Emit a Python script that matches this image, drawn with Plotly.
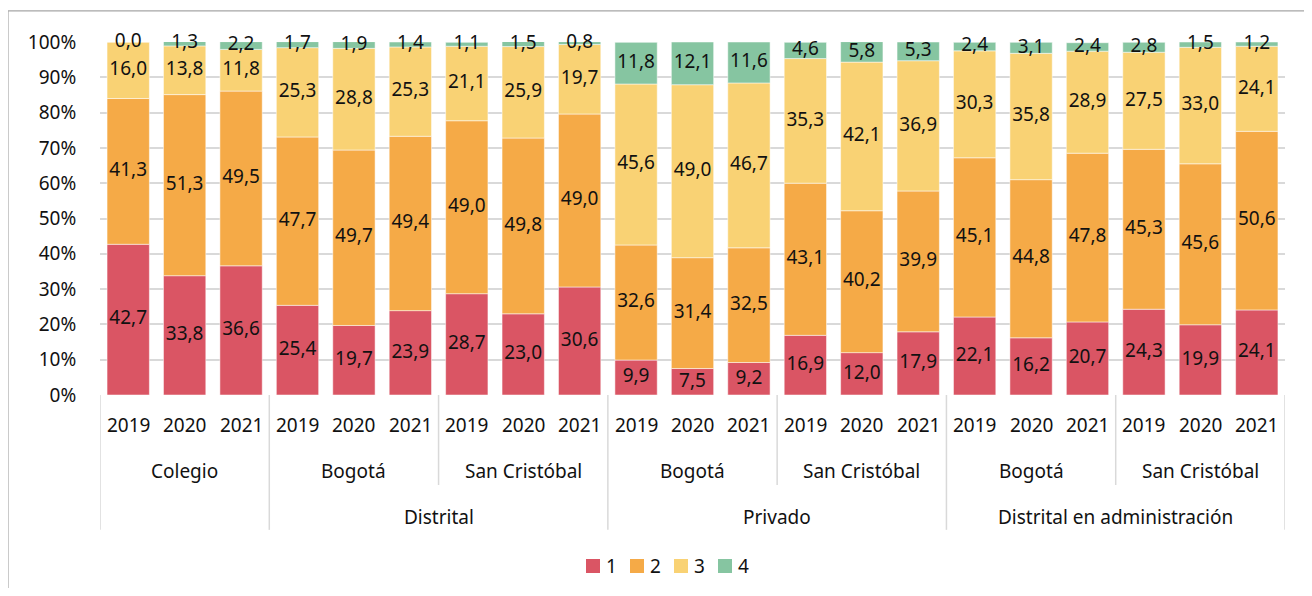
import plotly.graph_objects as go

# ---------------- data ----------------
years = ["2019", "2020", "2021"] * 7
level2 = (["Colegio"] * 3 + ["Bogotá"] * 3 + ["San Cristóbal"] * 3 +
          ["Bogotá"] * 3 + ["San Cristóbal"] * 3 +
          ["Bogotá"] * 3 + ["San Cristóbal"] * 3)
level3 = ([""] * 3 + ["Distrital"] * 6 + ["Privado"] * 6 +
          ["Distrital en administración"] * 6)

series_names = ["1", "2", "3", "4"]
s1 = [42.7, 33.8, 36.6, 25.4, 19.7, 23.9, 28.7, 23.0, 30.6, 9.9, 7.5, 9.2,
      16.9, 12.0, 17.9, 22.1, 16.2, 20.7, 24.3, 19.9, 24.1]
s2 = [41.3, 51.3, 49.5, 47.7, 49.7, 49.4, 49.0, 49.8, 49.0, 32.6, 31.4, 32.5,
      43.1, 40.2, 39.9, 45.1, 44.8, 47.8, 45.3, 45.6, 50.6]
s3 = [16.0, 13.8, 11.8, 25.3, 28.8, 25.3, 21.1, 25.9, 19.7, 45.6, 49.0, 46.7,
      35.3, 42.1, 36.9, 30.3, 35.8, 28.9, 27.5, 33.0, 24.1]
s4 = [0.0, 1.3, 2.2, 1.7, 1.9, 1.4, 1.1, 1.5, 0.8, 11.8, 12.1, 11.6,
      4.6, 5.8, 5.3, 2.4, 3.1, 2.4, 2.8, 1.5, 1.2]
y_ticks = [0, 10, 20, 30, 40, 50, 60, 70, 80, 90, 100]

# ---------------- style ----------------
colors = ["#DA5564", "#F5AA47", "#F9D274", "#86C5A1"]
FONT = "Noto Sans"
FS = 19
GRID = "#D9D9D9"
TXT = "#111111"

W, H = 1296, 580
ML, MR, MT, MB = 92, 19, 34, 193
PW, PH = W - ML - MR, H - MT - MB

n = len(years)
xs = list(range(n))
series = [s1, s2, s3, s4]

fig = go.Figure()
base = [0.0] * n
mids_all = []
for name, vals, col in zip(series_names, series, colors):
    fig.add_trace(go.Bar(
        x=xs, y=vals, base=base, name=name,
        marker=dict(color=col, line=dict(color="white", width=0.5)),
        width=0.75, hoverinfo="skip", textposition="none", showlegend=False,
    ))
    mids = [b + v / 2 for b, v in zip(base, vals)]
    mids_all.append((vals, mids))
    base = [b + v for b, v in zip(base, vals)]

for vals, mids in mids_all:
    fig.add_trace(go.Scatter(
        x=xs, y=mids, mode="text",
        text=[f"{v:.1f}".replace(".", ",") for v in vals],
        textfont=dict(family=FONT, size=FS, color=TXT),
        showlegend=False, hoverinfo="skip", cliponaxis=False,
    ))

# ---------------- multi-level category labels ----------------
Y_YEAR, Y_L2, Y_L3 = -0.085, -0.215, -0.345
L2_END, L3_END = -0.255, -0.382

annotations = []
for i, yr in enumerate(years):
    annotations.append(dict(x=i, y=Y_YEAR, xref="x", yref="paper", text=yr,
                            showarrow=False, yanchor="middle",
                            font=dict(family=FONT, size=FS, color=TXT)))


def runs(labels, keys):
    out = []
    start = 0
    for i in range(1, n + 1):
        if i == n or keys[i] != keys[start]:
            out.append((start, i - 1, labels[start]))
            start = i
    return out


l2_runs = runs(level2, list(zip(level3, level2)))
l3_runs = runs(level3, level3)

for a, b, lab in l2_runs:
    annotations.append(dict(x=(a + b) / 2, y=Y_L2, xref="x", yref="paper", text=lab,
                            showarrow=False, yanchor="middle",
                            font=dict(family=FONT, size=FS, color=TXT)))
for a, b, lab in l3_runs:
    if lab:
        annotations.append(dict(x=(a + b) / 2, y=Y_L3, xref="x", yref="paper", text=lab,
                                showarrow=False, yanchor="middle",
                                font=dict(family=FONT, size=FS, color=TXT)))

shapes = []
l3_bounds = {a - 0.5 for a, b, _ in l3_runs} | {n - 0.5}
l2_bounds = {a - 0.5 for a, b, _ in l2_runs} - l3_bounds
for xb in sorted(l3_bounds):
    shapes.append(dict(type="line", xref="x", yref="paper", x0=xb, x1=xb,
                       y0=0, y1=L3_END, line=dict(color=GRID, width=1.5)))
for xb in sorted(l2_bounds):
    shapes.append(dict(type="line", xref="x", yref="paper", x0=xb, x1=xb,
                       y0=0, y1=L2_END, line=dict(color=GRID, width=1.5)))

# outer chart frame (top and left edges visible)
shapes.append(dict(type="line", xref="paper", yref="paper", x0=-ML / PW, x1=1.03,
                   y0=1.088, y1=1.088, line=dict(color="#A6A6A6", width=1.2)))
shapes.append(dict(type="line", xref="paper", yref="paper", x0=-ML / PW, x1=-ML / PW,
                   y0=1.088, y1=-0.6, line=dict(color="#A6A6A6", width=1.2)))

# ---------------- legend (drawn manually for compact spacing) ----------------
LEG_X0, LEG_STEP, LEG_SQ, LEG_YC = 578, 44, 14, 558  # figure pixels
for k, (name, col) in enumerate(zip(series_names, colors)):
    px = LEG_X0 + LEG_STEP * k
    x0 = (px - ML) / PW
    x1 = (px + LEG_SQ - ML) / PW
    y0 = (H - MB - (LEG_YC - LEG_SQ / 2)) / PH
    y1 = (H - MB - (LEG_YC + LEG_SQ / 2)) / PH
    shapes.append(dict(type="rect", xref="paper", yref="paper", x0=x0, x1=x1,
                       y0=y0, y1=y1, fillcolor=col, line=dict(width=0)))
    annotations.append(dict(x=(px + LEG_SQ + 4 - ML) / PW, y=(H - MB - LEG_YC) / PH,
                            xref="paper", yref="paper", text=name, showarrow=False,
                            xanchor="left", yanchor="middle",
                            font=dict(family=FONT, size=FS, color=TXT)))

fig.update_layout(
    barmode="overlay",
    width=W, height=H,
    margin=dict(l=ML, r=MR, t=MT, b=MB),
    paper_bgcolor="white", plot_bgcolor="white",
    font=dict(family=FONT, size=FS, color=TXT),
    showlegend=False,
    annotations=annotations,
    shapes=shapes,
    hovermode=False,
)
fig.update_xaxes(range=[-0.5, n - 0.5], showticklabels=False, showgrid=False,
                 zeroline=False, showline=False, fixedrange=True)
fig.update_yaxes(range=[0, 100], tickvals=y_ticks, ticktext=[f"{t}%" for t in y_ticks],
                 showgrid=True, gridcolor=GRID, gridwidth=1.5, zeroline=False,
                 showline=False, ticks="outside", ticklen=19,
                 tickcolor="rgba(0,0,0,0)",
                 tickfont=dict(family=FONT, size=FS, color=TXT), fixedrange=True)

fig.write_html("out.html")
